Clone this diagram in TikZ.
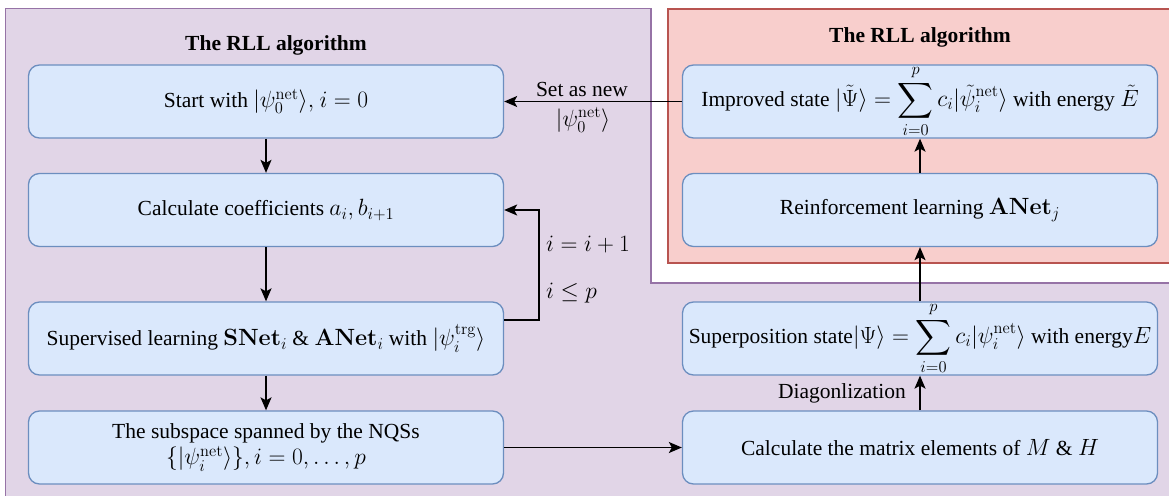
\RequirePackage{fix-cm}
\documentclass[tikz,border=0pt]{standalone}
\usepackage{amsmath}
\usepackage[no-math]{fontspec}
\setmainfont{Liberation Serif}
\DeclareMathSizes{21.5}{23.5}{16.5}{12}
\usetikzlibrary{arrows.meta}
\definecolor{pfill}{HTML}{E1D5E7}
\definecolor{pdraw}{HTML}{9673A6}
\definecolor{rfill}{HTML}{F8CECC}
\definecolor{rdraw}{HTML}{B85450}
\definecolor{bfill}{HTML}{DAE8FC}
\definecolor{bdraw}{HTML}{6C8EBF}
\begin{document}
\begin{tikzpicture}[x=1pt,y=-1pt, font=\fontsize{21.5}{26}\selectfont,
 box/.style={draw=bdraw, fill=bfill, line width=1.3pt, rounded corners=11pt, minimum width=475pt, minimum height=73pt, align=center, inner sep=0pt},
 conn/.style={line width=1.6pt, -{Stealth[length=13pt,width=11pt,inset=3pt]}},
 lbl/.style={inner sep=1pt},
 ttl/.style={font=\fontsize{21.5}{26}\selectfont\bfseries}
 ]
\useasboundingbox (0,0) rectangle (1169,495);
\clip (0,0) rectangle (1169,495);
\fill[white] (0,0) rectangle (1169,495);
\draw[pdraw, fill=pfill, line width=1.3pt] (5.5,8.5) -- (651,8.5) -- (651,283) -- (1180,283) -- (1180,505) -- (5.5,505) -- cycle;
\draw[rdraw, fill=rfill, line width=1.3pt] (668,9) rectangle (1180,263);

\node[ttl] (t1) at (276,45) {The RLL algorithm};
\node[ttl] (t2) at (920,37) {The RLL algorithm};

\node[box] (b1) at (266,101.5) {Start with $|\psi_0^{\mathrm{net}}\rangle,$ $i=0$};
\node[box] (b2) at (266,210) {Calculate coefficients $a_i, b_{i+1}$};
\node[box] (b3) at (266,338.5) {Supervised learning $\mathbf{SNet}_i$ \& $\mathbf{ANet}_i$ with $|\psi_i^{\mathrm{trg}}\rangle$};
\node[box] (b4) at (266,447.5) {The subspace spanned by the NQSs\\ $\{|\psi_i^{\mathrm{net}}\rangle\}, i=0,\dots,p$};

\node[box] (r1) at (920,101.5) {Improved state $|\tilde{\Psi}\rangle = \displaystyle\sum_{i=0}^{p} c_i|\tilde{\psi}_i^{\mathrm{net}}\rangle$ with energy $\tilde{E}$};
\node[box] (r2) at (920,210) {Reinforcement learning $\mathbf{ANet}_j$};
\node[box] (r3) at (920,338.5) {Superposition state$|\Psi\rangle = \displaystyle\sum_{i=0}^{p} c_i|\psi_i^{\mathrm{net}}\rangle$ with energy$E$};
\node[box] (r4) at (920,447.5) {Calculate the matrix elements of $M$ \& $H$};

\draw[conn] (b1) -- (b2);
\draw[conn] (b2) -- (b3);
\draw[conn] (b3) -- (b4);
\draw[conn] ([yshift=18.5pt]b3.east) -- ++(35,0) coordinate (lp) |- (b2.east);
\node[lbl, anchor=west] (l1) at (545,245) {$i=i+1$};
\node[lbl, anchor=west] (l2) at (545,293) {$i\leq p$};

\draw[conn] (b4) -- (r4);
\draw[conn] (r4) -- (r3);
\node[lbl, anchor=east] (l3) at (907,393) {Diagonlization};
\draw[conn] (r3) -- (r2);
\draw[conn] (r2) -- (r1);
\draw[conn] (r1) -- (b1);
\node[lbl, anchor=base] (l4) at (582,96) {Set as new};
\node[lbl, anchor=base] (l5) at (583,126) {$|\psi_0^{\mathrm{net}}\rangle$};
\end{tikzpicture}
\end{document}
